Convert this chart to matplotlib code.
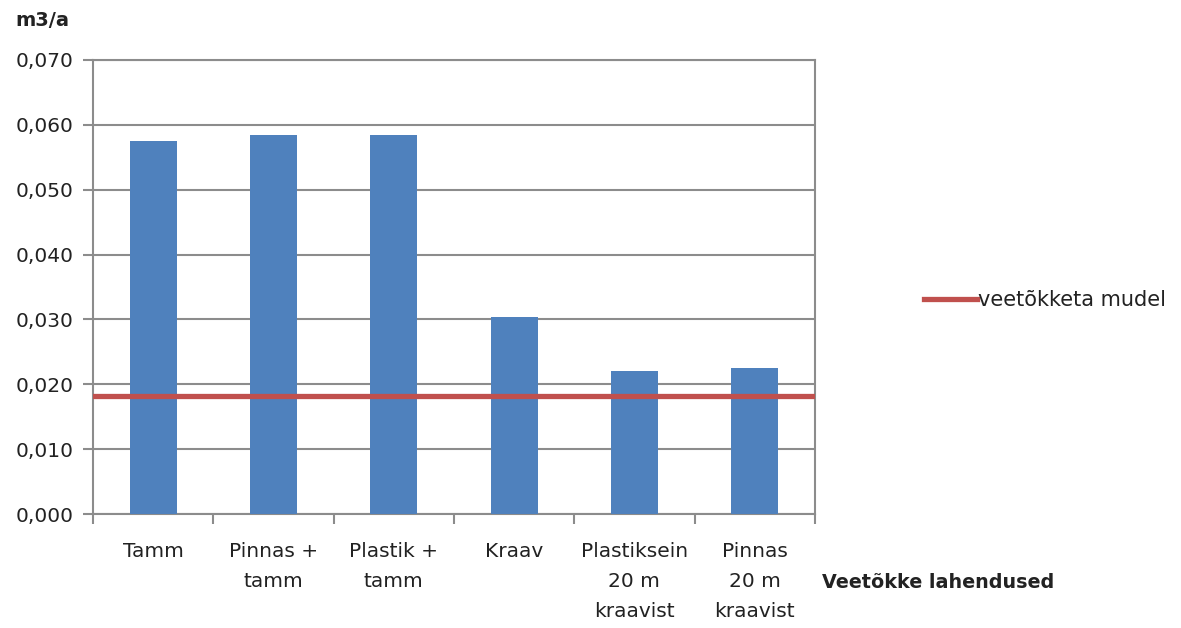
import matplotlib
matplotlib.use("Agg")
import matplotlib.pyplot as plt
from matplotlib.ticker import FuncFormatter, FixedLocator

categories = ["Tamm", "Pinnas +\ntamm", "Plastik +\ntamm", "Kraav",
              "Plastiksein\n20 m\nkraavist", "Pinnas\n20 m\nkraavist"]
values = [0.0575, 0.0584, 0.0584, 0.0303, 0.0220, 0.0225]
model_value = 0.0182
model_label = "veetõkketa mudel"
y_label = "m3/a"
x_label = "Veetõkke lahendused"

plt.rcParams['font.family'] = ['DejaVu Sans']
txt = '#222222'
grid_c = '#8c8c8c'

fig = plt.figure(figsize=(11.81, 6.28), dpi=100)
ax = fig.add_axes([0.0787, 0.1815, 0.690 - 0.0787, 0.9045 - 0.1815])

x = list(range(len(categories)))
ax.bar(x, values, width=0.39, color='#4F81BD', zorder=3)
ax.axhline(model_value, color='#C0504D', lw=3.8, zorder=4, label=model_label)

ax.set_xlim(-0.5, len(categories) - 0.5)
ax.set_ylim(0, 0.070)
ax.set_yticks([i * 0.01 for i in range(8)])
ax.yaxis.set_major_formatter(FuncFormatter(lambda v, p: f"{v:.3f}".replace('.', ',')))
ax.yaxis.grid(True, color=grid_c, lw=1.5, zorder=0)
ax.set_axisbelow(True)

ax.set_xticks(x)
ax.set_xticklabels(categories, fontsize=14.5, color=txt, linespacing=1.75, va='top')
ax.xaxis.set_minor_locator(FixedLocator([i - 0.5 for i in range(len(categories) + 1)]))
ax.tick_params(axis='x', which='major', length=0, pad=20)
ax.tick_params(axis='x', which='minor', length=7, width=1.5, color=grid_c, direction='out')
ax.tick_params(axis='y', length=7, width=1.5, color=grid_c, direction='out',
               labelsize=14.5, labelcolor=txt, pad=7)

for s in ['left', 'right', 'bottom', 'top']:
    ax.spines[s].set_color(grid_c)
    ax.spines[s].set_linewidth(1.5)

fig.text(15 / 1181, 1 - 20 / 628, y_label, fontsize=14, fontweight='bold', color=txt,
         ha='left', va='center')
fig.text(822 / 1181, 1 - 582 / 628, x_label, fontsize=13.8, fontweight='bold', color=txt,
         ha='left', va='center')

leg = fig.legend(loc='center left', bbox_to_anchor=(924 / 1181, 1 - 300 / 628),
                 frameon=False, fontsize=15, handlelength=2.55, handletextpad=0.05,
                 borderpad=0, borderaxespad=0)
for t in leg.get_texts():
    t.set_color(txt)

fig.savefig("out.png", dpi=100)
